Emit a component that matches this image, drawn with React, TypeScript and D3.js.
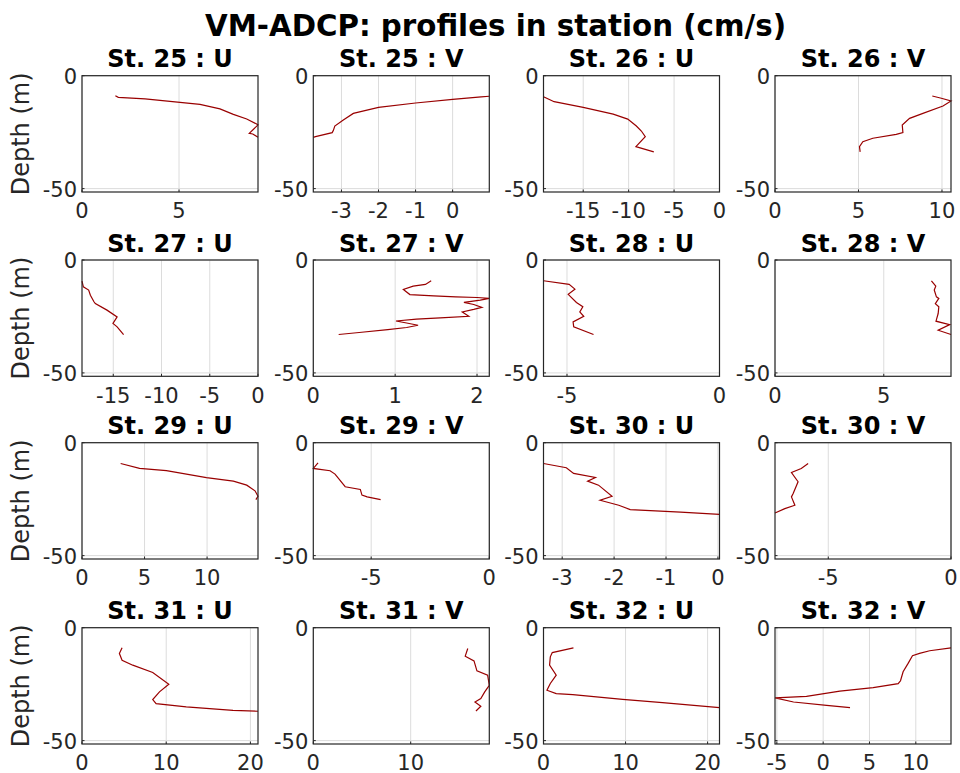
import React from "react";
import * as d3 from "d3";

// ---- data: [velocity (cm/s), depth (m)] ----
const u25 = [[1.72,-8.9],[1.87,-9.6],[3.25,-10.3],[5.05,-11.8],[6.08,-12.7],[7.11,-14.7],[7.8,-17.1],[8.49,-19.2],[9.0,-21.4],[9.07,-21.8],[8.62,-25.5],[8.8,-25.8],[9.07,-27.3]];
const v25 = [[0.99,-9.1],[0.77,-9.4],[0,-10.5],[-1,-12.1],[-2,-14],[-2.68,-16.7],[-2.95,-19.6],[-3.18,-22.3],[-3.22,-24.3],[-3.25,-25.2],[-3.7,-27],[-3.76,-27.3]];
const u26 = [[-19.37,-9.3],[-18.2,-11.5],[-15,-14],[-11.7,-17],[-10.1,-19.2],[-9.15,-22.3],[-8.6,-24.5],[-8.17,-27],[-9.2,-31.4],[-7.23,-33.7]];
const v26 = [[9.42,-9],[9.96,-10],[10.54,-11.2],[10.06,-13.4],[8.86,-16.7],[8.06,-18.9],[7.62,-21.8],[7.66,-25.2],[7.26,-26],[5.86,-27.7],[5.26,-29.2],[5.06,-31.4],[5.1,-33.7]];
const u27 = [[-18.24,-9.4],[-18.1,-11.9],[-17.55,-13.3],[-17.37,-15.6],[-17.0,-18.5],[-16.86,-19.3],[-15.65,-22.2],[-14.6,-25.2],[-15.03,-28.1],[-14.6,-29.6],[-13.93,-33]];
const v27 = [[1.44,-9.2],[1.37,-10.8],[1.22,-11.6],[1.1,-13],[1.18,-15.3],[1.47,-15.9],[1.74,-16.3],[2.0,-16.6],[2.15,-17],[2.04,-17.8],[1.84,-18.8],[1.96,-19.7],[2.06,-21],[1.96,-21.9],[1.82,-23],[1.9,-24.9],[1.55,-25.6],[1.26,-26.2],[1.01,-27],[1.14,-27.9],[1.28,-28.9],[1.14,-29.9],[0.91,-30.8],[0.56,-32.1],[0.31,-33]];
const u28 = [[-5.77,-9.2],[-4.93,-10.8],[-4.74,-12.9],[-4.96,-15.2],[-4.69,-18.8],[-4.48,-20.7],[-4.58,-23],[-4.45,-24.9],[-4.8,-27.4],[-4.78,-29.6],[-4.13,-33]];
const v28 = [[7.19,-9.2],[7.39,-11.6],[7.32,-13.3],[7.42,-16.3],[7.53,-17],[7.37,-19.3],[7.53,-20.7],[7.5,-23.7],[7.4,-27.1],[8.03,-28.6],[7.5,-31.1],[8.09,-33]];
const u29 = [[3.09,-9.2],[4.6,-11.4],[6.75,-12.4],[9.95,-15.5],[12.1,-17],[13.17,-18.8],[13.83,-21.3],[14.07,-23.7],[13.9,-25.2]];
const v29 = [[-7.25,-8.9],[-7.45,-11.4],[-6.74,-12.4],[-6.53,-13.9],[-6.1,-19.5],[-5.46,-20.7],[-5.39,-23.2],[-5.17,-24],[-4.6,-25.2]];
const u30 = [[-3.36,-9.2],[-2.92,-11.1],[-2.78,-13.6],[-2.36,-15.4],[-2.51,-17],[-2.3,-18.8],[-2.04,-23.7],[-2.27,-25.5],[-1.91,-27.7],[-1.69,-29.6],[-0.72,-30.7],[0.03,-31.7]];
const v30 = [[-5.82,-9.2],[-6.1,-11.4],[-6.5,-13.2],[-6.23,-17.3],[-6.43,-22.5],[-6.5,-24],[-6.36,-27.7],[-6.77,-29.2],[-7.17,-31.1]];
const u31 = [[4.76,-8.9],[4.44,-11.4],[4.76,-14.4],[6.03,-16.6],[8.4,-19.8],[10.31,-25],[9.2,-28.4],[8.4,-31.8],[8.8,-33.6],[12.38,-35.1],[17.93,-36.6],[20.9,-37]];
const v31 = [[15.86,-9.2],[15.6,-12.6],[16.5,-14.7],[16.8,-19.1],[17.9,-21],[18.07,-25.5],[17.6,-28.4],[17.2,-31.4],[16.6,-32.9],[17.2,-34.8],[16.7,-36.9]];
const u32 = [[3.65,-8.9],[1.07,-11],[0.83,-12.9],[0.74,-16.6],[1.55,-21],[0.83,-24.7],[0.42,-27.7],[1.55,-29.2],[3.57,-29.6],[9.64,-31.7],[14.5,-33.2],[21.45,-35.4]];
const v32 = [[13.8,-8.9],[11.5,-10.2],[10.4,-11.4],[9.64,-12.4],[9.17,-15.8],[8.63,-19.5],[8.35,-23.5],[8.1,-24.8],[5.4,-26.5],[1.8,-28.1],[-1.8,-30.4],[-5.2,-31.1],[-3.2,-32.9],[0.37,-34.4],[2.9,-35.4]];

const stations = [25, 26, 27, 28, 29, 30, 31, 32];
const components = ["U", "V"];
const profiles = [u25, v25, u26, v26, u27, v27, u28, v28, u29, v29, u30, v30, u31, v31, u32, v32];
const xTicks = [
  [0, 5], [-3, -2, -1, 0], [-15, -10, -5, 0], [0, 5, 10],
  [-15, -10, -5, 0], [0, 1, 2], [-5, 0], [0, 5],
  [0, 5, 10], [-5, 0], [-3, -2, -1, 0], [-5, 0],
  [0, 10, 20], [0, 10], [0, 10, 20], [-5, 0, 5, 10],
];
const yTicks = [0, -50];
const yDomain = [-51.5, 0];
const titleText = "VM-ADCP: profiles in station (cm/s)";
const yLabelText = "Depth (m)";

const colLefts = [82, 313.3, 543.5, 775];
const rowTops = [75.7, 260, 442.7, 627.7];
const PW = 176;
const PH = 116.3;
const FONT = "DejaVu Sans, sans-serif";
const AX = "#262626";

function Panel({ idx }: { idx: number }) {
  const r = Math.floor(idx / 4);
  const c = idx % 4;
  const x0 = colLefts[c];
  const y0 = rowTops[r];
  const data = profiles[idx];
  const st = stations[Math.floor(idx / 2)];
  const comp = components[idx % 2];
  const vals = data.map((d) => d[0]);
  const xMin = Math.min(0, d3.min(vals) as number);
  const xMax = Math.max(0, d3.max(vals) as number);
  const xs = d3.scaleLinear().domain([xMin, xMax]).range([0, PW]);
  const ys = d3.scaleLinear().domain(yDomain).range([PH, 0]);
  const line = d3.line<number[]>().x((d) => xs(d[0])).y((d) => ys(d[1]));
  return (
    <g transform={`translate(${x0},${y0})`}>
      {xTicks[idx].map((t) => (
        <line key={"gx" + t} x1={xs(t)} x2={xs(t)} y1={0} y2={PH} stroke="#dcdcdc" strokeWidth={1} />
      ))}
      {yTicks.map((t) => (
        <line key={"gy" + t} x1={0} x2={PW} y1={ys(t)} y2={ys(t)} stroke="#dcdcdc" strokeWidth={1} />
      ))}
      <path d={line(data) || ""} fill="none" stroke="#990000" strokeWidth={1.2} />
      {xTicks[idx].map((t) => (
        <line key={"tx" + t} x1={xs(t)} x2={xs(t)} y1={PH} y2={PH - 2.5} stroke={AX} strokeWidth={1} />
      ))}
      {yTicks.map((t) => (
        <line key={"ty" + t} x1={0} x2={2.5} y1={ys(t)} y2={ys(t)} stroke={AX} strokeWidth={1} />
      ))}
      <rect x={0} y={0} width={PW} height={PH} fill="none" stroke={AX} strokeWidth={1.2} />
      {xTicks[idx].map((t) => (
        <text key={"lx" + t} x={xs(t)} y={PH + 26.5} textAnchor="middle" fontSize={21} fill={AX} fontFamily={FONT}>
          {t < 0 ? "-" + Math.abs(t) : String(t)}
        </text>
      ))}
      {yTicks.map((t) => (
        <text key={"ly" + t} x={-5} y={ys(t) + 8} textAnchor="end" fontSize={21} fill={AX} fontFamily={FONT}>
          {t < 0 ? "-" + Math.abs(t) : String(t)}
        </text>
      ))}
      <text x={PW / 2} y={-8.5} textAnchor="middle" fontSize={24} fontWeight="bold" fill="#000" fontFamily={FONT}>
        {`St. ${st} : ${comp}`}
      </text>
      {c === 0 && (
        <text transform={`translate(${29 - x0},${PH / 2}) rotate(-90)`} textAnchor="middle" fontSize={24} fill={AX} fontFamily={FONT}>
          {yLabelText}
        </text>
      )}
    </g>
  );
}

export default function App() {
  return (
    <svg width={960} height={773} style={{ position: "absolute", left: 0, top: 0, background: "#fff" }}>
      <rect width={960} height={773} fill="#fff" />
      <text x={495.5} y={36} textAnchor="middle" fontSize={29.3} fontWeight="bold" fill="#000" fontFamily={FONT}>
        {titleText}
      </text>
      {profiles.map((_, i) => (
        <Panel key={i} idx={i} />
      ))}
    </svg>
  );
}
